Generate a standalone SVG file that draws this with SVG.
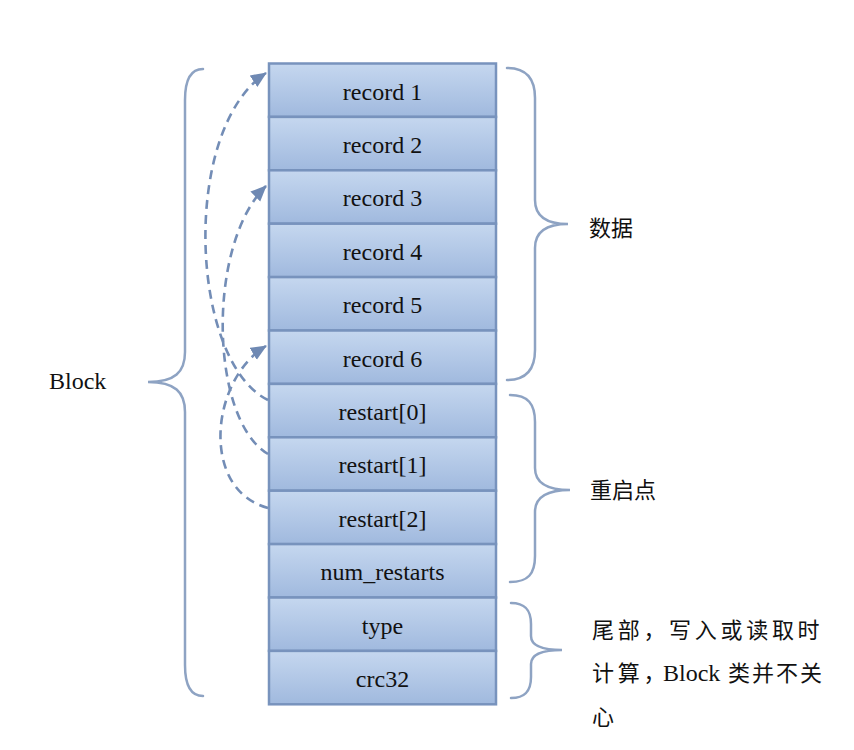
<svg xmlns="http://www.w3.org/2000/svg" width="854" height="750" viewBox="0 0 854 750">
<style>
.cell{fill:url(#g);stroke:#7893bd;stroke-width:2.5}
.lbl{font-family:"Liberation Serif","Times New Roman",serif;font-size:24px;fill:#111;text-anchor:middle}
.brace{fill:none;stroke:#8ea3c3;stroke-width:2.5;stroke-linecap:round}
.dash{fill:none;stroke:#738db6;stroke-width:2.6;stroke-dasharray:9 6}
.cjk{font-family:"Noto Sans CJK SC","Noto Sans",sans-serif;font-size:22px;fill:#111}
.serif{font-family:"Liberation Serif","Times New Roman",serif;font-size:24px;fill:#111}
</style>
<defs>
<linearGradient id="g" x1="0" y1="0" x2="0" y2="1">
<stop offset="0" stop-color="#c5d7ef"/>
<stop offset="1" stop-color="#a0b9de"/>
</linearGradient>
<marker id="ah" markerUnits="userSpaceOnUse" markerWidth="18" markerHeight="16" refX="15" refY="7" orient="auto">
<path d="M0,0 L16,7 L0,14 z" fill="#6f89b3"/>
</marker>
</defs>
<rect width="854" height="750" fill="#fff"/>
<g id="block-cells">
<g id="record1"><rect class="cell" x="269" y="63.5" width="227" height="53.4"/><text class="lbl" x="382.5" y="99.5">record 1</text></g>
<g id="record2"><rect class="cell" x="269" y="116.9" width="227" height="53.4"/><text class="lbl" x="382.5" y="152.9">record 2</text></g>
<g id="record3"><rect class="cell" x="269" y="170.3" width="227" height="53.4"/><text class="lbl" x="382.5" y="206.3">record 3</text></g>
<g id="record4"><rect class="cell" x="269" y="223.7" width="227" height="53.4"/><text class="lbl" x="382.5" y="259.7">record 4</text></g>
<g id="record5"><rect class="cell" x="269" y="277.1" width="227" height="53.4"/><text class="lbl" x="382.5" y="313.1">record 5</text></g>
<g id="record6"><rect class="cell" x="269" y="330.5" width="227" height="53.4"/><text class="lbl" x="382.5" y="366.5">record 6</text></g>
<g id="restart0"><rect class="cell" x="269" y="383.9" width="227" height="53.4"/><text class="lbl" x="382.5" y="419.9">restart[0]</text></g>
<g id="restart1"><rect class="cell" x="269" y="437.3" width="227" height="53.4"/><text class="lbl" x="382.5" y="473.3">restart[1]</text></g>
<g id="restart2"><rect class="cell" x="269" y="490.7" width="227" height="53.4"/><text class="lbl" x="382.5" y="526.7">restart[2]</text></g>
<g id="num_restarts"><rect class="cell" x="269" y="544.1" width="227" height="53.4"/><text class="lbl" x="382.5" y="580.1">num_restarts</text></g>
<g id="type"><rect class="cell" x="269" y="597.5" width="227" height="53.4"/><text class="lbl" x="382.5" y="633.5">type</text></g>
<g id="crc32"><rect class="cell" x="269" y="650.9" width="227" height="53.4"/><text class="lbl" x="382.5" y="686.9">crc32</text></g>
</g>
<g id="connectors">
<path class="dash" d="M268,400 C190,362 180,130 266,73" marker-end="url(#ah)"/>
<path class="dash" d="M268,454 C210,420 206,245 266,186" marker-end="url(#ah)"/>
<path class="dash" d="M268,508 C200,490 210,380 266,346" marker-end="url(#ah)"/>
</g>
<g id="brace-block">
<path class="brace" d="M203,69 C190,69 185,80 185,100 V352 C185,372 175,382 148,382 C175,382 185,392 185,412 V665 C185,685 190,696 203,696"/>
<text class="serif" x="49" y="389">Block</text>
</g>
<g id="brace-data">
<path class="brace" d="M507,68 C526,68 535,78 535,98 V200 C535,215 545,224 568,224 C545,224 535,233 535,248 V350 C535,370 526,380 507,380"/>
<text class="cjk" x="589" y="236">数据</text>
</g>
<g id="brace-restart">
<path class="brace" d="M510,395 C528,395 535,404 535,422 V468 C535,482 545,490 570,490 C545,490 535,498 535,512 V556 C535,574 528,582 510,582"/>
<text class="cjk" x="590" y="498">重启点</text>
</g>
<g id="brace-tail">
<path class="brace" d="M511,603 C525,603 531,610 531,624 V636 C531,645 540,650 562,650 C540,650 531,655 531,664 V677 C531,691 525,698 511,698"/>
<text class="cjk" x="592 617.7 643.4 669 694.8 720.5 746.2 771.9 797.6" y="638">尾部，写入或读取时</text>
<text class="cjk" x="592 617.7 643.4" y="681">计算，</text>
<text class="serif" x="663" y="681">Block</text>
<text class="cjk" x="728 752 776 800" y="681">类并不关</text>
<text class="cjk" x="592" y="725">心</text>
</g>
</svg>
